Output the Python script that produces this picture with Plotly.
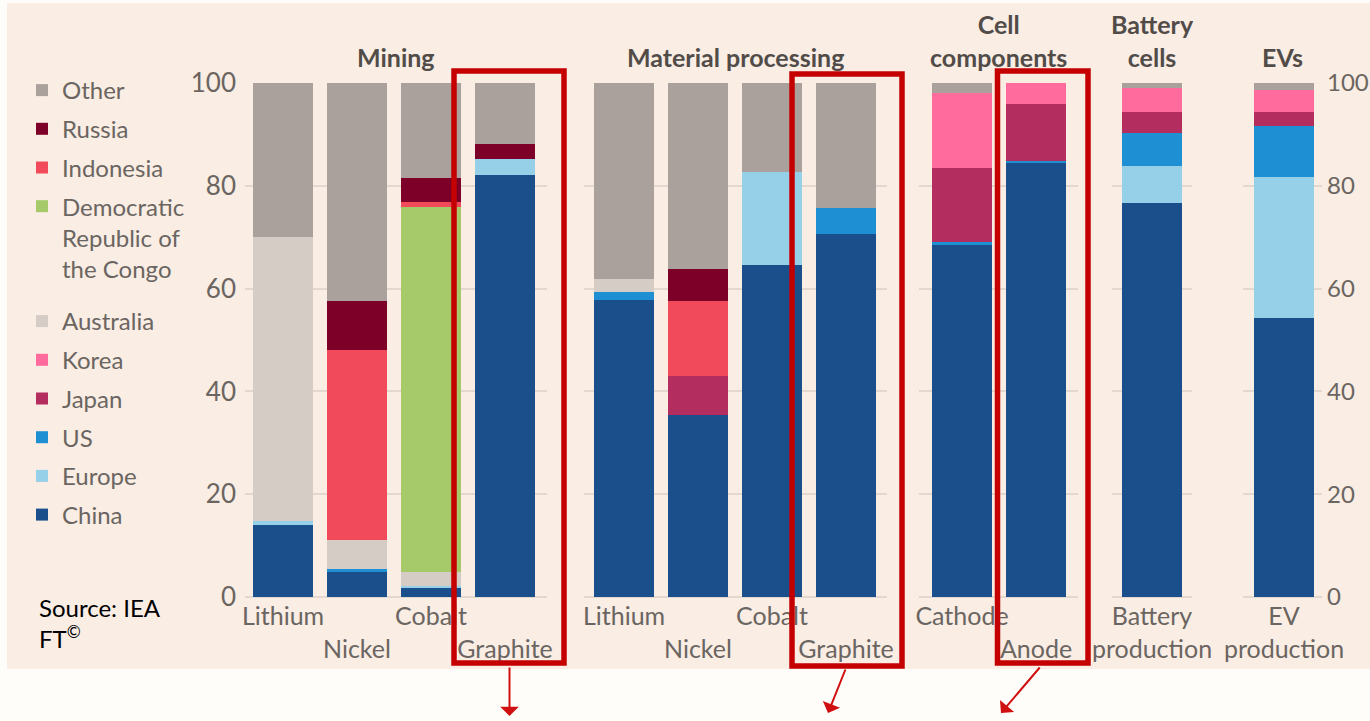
import plotly.graph_objects as go

W, H = 1370, 721

# ---------------- data ----------------
group_titles = ["Mining", "Material processing", "Cell<br>components", "Battery<br>cells", "EVs"]

mining_cats = ["Lithium", "Nickel", "Cobalt", "Graphite"]
processing_cats = ["Lithium", "Nickel", "Cobalt", "Graphite"]
cell_cats = ["Cathode", "Anode"]
battery_cats = ["Battery production"]
ev_cats = ["EV production"]

mining_ticks = ["Lithium", "\u00a0<br>Nickel", "Cobalt", "\u00a0<br>Graphite"]
processing_ticks = ["Lithium", "\u00a0<br>Nickel", "Cobalt", "\u00a0<br>Graphite"]
cell_ticks = ["Cathode", "\u00a0<br>Anode"]
battery_ticks = ["Battery<br>production"]
ev_ticks = ["EV<br>production"]

# share of each stage (%), bar order:
# Mining Li, Ni, Co, Gr | Processing Li, Ni, Co, Gr | Cathode, Anode | Battery | EV
china     = [14.0, 4.9, 1.7, 82.1, 57.8, 35.4, 64.6, 70.6, 68.5, 84.4, 76.7, 54.3]
europe    = [0.8, 0.0, 0.4, 3.2, 0.0, 0.0, 18.1, 0.0, 0.0, 0.0, 7.2, 27.4]
us        = [0.0, 0.5, 0.0, 0.0, 1.6, 0.0, 0.0, 5.0, 0.6, 0.5, 6.4, 9.9]
japan     = [0.0, 0.0, 0.0, 0.0, 0.0, 7.5, 0.0, 0.0, 14.4, 11.1, 4.1, 2.8]
korea     = [0.0, 0.0, 0.0, 0.0, 0.0, 0.0, 0.0, 0.0, 14.5, 4.0, 4.6, 4.2]
australia = [55.2, 5.7, 2.8, 0.0, 2.4, 0.0, 0.0, 0.0, 0.0, 0.0, 0.0, 0.0]
drc       = [0.0, 0.0, 71.0, 0.0, 0.0, 0.0, 0.0, 0.0, 0.0, 0.0, 0.0, 0.0]
indonesia = [0.0, 36.9, 1.0, 0.0, 0.0, 14.7, 0.0, 0.0, 0.0, 0.0, 0.0, 0.0]
russia    = [0.0, 9.5, 4.6, 2.8, 0.0, 6.3, 0.0, 0.0, 0.0, 0.0, 0.0, 0.0]
other     = [30.0, 42.5, 18.5, 11.9, 38.2, 36.1, 17.3, 24.4, 2.0, 0.0, 1.0, 1.4]

y_ticks = [0, 20, 40, 60, 80, 100]

# ---------------- styling ----------------
# stacking order bottom -> top; legend lists them top -> bottom
series = [
    ("China", china, "#1b4f8b", "legend2"),
    ("Europe", europe, "#96cfe8", "legend2"),
    ("US", us, "#1f8fd4", "legend2"),
    ("Japan", japan, "#b32d5e", "legend2"),
    ("Korea", korea, "#ff6b9d", "legend2"),
    ("Australia", australia, "#d5ccc5", "legend2"),
    ("Democratic<br>Republic of<br>the Congo", drc, "#a6c96a", "legend"),
    ("Indonesia", indonesia, "#f14b5b", "legend"),
    ("Russia", russia, "#7c0027", "legend"),
    ("Other", other, "#aaa19c", "legend"),
]

group_cats = [mining_cats, processing_cats, cell_cats, battery_cats, ev_cats]
group_ticks = [mining_ticks, processing_ticks, cell_ticks, battery_ticks, ev_ticks]

# pixel layout of each panel (left, right) and first bar centre
panel_px = [(245, 547), (584, 887), (919, 1078), (1112, 1192), (1243, 1322)]
first_centre_px = [283, 624, 962, 1152, 1284]
unit_px = 74.0
bar_px = 60.0

y_dom = [1 - 597 / H, 1 - 83 / H]

FONT = "Lato"
GREY = "#6b6561"
GRID = "#e2d8d0"

fig = go.Figure()

starts = []
s = 0
for cats in group_cats:
    starts.append(s)
    s += len(cats)

n_series = len(series)
for gi, cats in enumerate(group_cats):
    xa = "x" if gi == 0 else f"x{gi + 1}"
    ya = "y2" if gi == len(group_cats) - 1 else "y"
    lo = starts[gi]
    for si, (name, vals, color, lg) in enumerate(series):
        fig.add_trace(go.Bar(
            x=cats, y=vals[lo:lo + len(cats)], name=name,
            marker=dict(color=color, line=dict(width=0)),
            xaxis=xa, yaxis=ya, legendgroup=name, legend=lg,
            legendrank=n_series - si,
            showlegend=(gi == 0), hoverinfo="x+y+name",
        ))

layout_axes = {}
for gi, cats in enumerate(group_cats):
    l, r = panel_px[gi]
    r0 = -(first_centre_px[gi] - l) / unit_px
    r1 = r0 + (r - l) / unit_px
    key = "xaxis" if gi == 0 else f"xaxis{gi + 1}"
    layout_axes[key] = dict(
        type="category", domain=[l / W, r / W], range=[r0, r1],
        anchor="y" if gi < len(group_cats) - 1 else "y2",
        tickvals=cats, ticktext=group_ticks[gi], showgrid=False,
        showline=False, zeroline=False, ticks="", ticklabelstandoff=2,
        tickangle=0, automargin=False,
        tickfont=dict(family=FONT, size=25, color=GREY), fixedrange=True,
    )

fig.update_layout(**layout_axes)
fig.update_layout(
    yaxis=dict(domain=y_dom, range=[0, 100], tickvals=y_ticks, anchor="x",
               showgrid=True, gridcolor=GRID, gridwidth=1.5, automargin=False,
               zeroline=True, zerolinecolor=GRID, zerolinewidth=1.5,
               ticks="", ticklabelstandoff=8,
               tickfont=dict(family=FONT, size=26, color=GREY)),
    yaxis2=dict(domain=y_dom, range=[0, 100], tickvals=y_ticks, anchor="x5",
                side="right", showgrid=True, gridcolor=GRID, gridwidth=1.5,
                automargin=False,
                zeroline=True, zerolinecolor=GRID, zerolinewidth=1.5,
                ticks="", ticklabelstandoff=4,
                tickfont=dict(family=FONT, size=24, color=GREY)),
)

# group titles
for gi, title in enumerate(group_titles):
    xr = "x domain" if gi == 0 else f"x{gi + 1} domain"
    fig.add_annotation(text=title, xref=xr, x=0.5, yref="paper", y=1 - 74 / H,
                       xanchor="center", yanchor="bottom", showarrow=False,
                       font=dict(family=FONT, size=25, color="#524c49", weight="bold"))

# source note
fig.add_annotation(text="Source: IEA<br>FT<sup>©</sup>", xref="paper", yref="paper",
                   x=37 / W, y=1 - 591 / H, xanchor="left", yanchor="top", align="left",
                   showarrow=False, font=dict(family=FONT, size=24, color="#000000"))

# beige panel background
fig.add_shape(type="rect", xref="paper", yref="paper", x0=7 / W, x1=1.0,
              y0=1 - 669 / H, y1=1 - 3 / H, fillcolor="#f9ede4",
              line=dict(width=0), layer="below")

# red highlight boxes
RED = "#c40000"
for (x0, x1, y0, y1) in [(454, 564, 71, 663), (792, 902, 74, 666), (997.5, 1088, 71, 663)]:
    fig.add_shape(type="rect", xref="paper", yref="paper",
                  x0=x0 / W, x1=x1 / W, y0=1 - y1 / H, y1=1 - y0 / H,
                  line=dict(color=RED, width=5.5), layer="above")

# arrows
for (hx, hy, tx, ty) in [(509.5, 716, 509.5, 666), (828, 713, 846, 668), (1001, 713, 1041, 666)]:
    fig.add_annotation(x=hx / W, y=1 - hy / H, xref="paper", yref="paper",
                       ax=tx - hx, ay=ty - hy, axref="pixel", ayref="pixel",
                       text="", showarrow=True, arrowhead=1, arrowsize=1.55,
                       arrowwidth=2, arrowcolor="#d01010")

legend_common = dict(
    orientation="v", xanchor="left", yanchor="top", bgcolor="rgba(0,0,0,0)",
    font=dict(family=FONT, size=24, color=GREY), traceorder="grouped",
    tracegroupgap=4.5, valign="top", itemclick=False, itemdoubleclick=False,
)
fig.update_layout(
    legend=dict(x=22 / W, y=1 - 68 / H, **legend_common),
    legend2=dict(x=22 / W, y=1 - 299 / H, **legend_common),
)

fig.update_layout(
    width=W, height=H, margin=dict(l=0, r=0, t=0, b=0, autoexpand=False),
    paper_bgcolor="#fffdf9", plot_bgcolor="rgba(0,0,0,0)",
    barmode="stack", bargap=1 - bar_px / unit_px,
    showlegend=True, font=dict(family=FONT),
)

fig.write_html("out.html",
               config={"displayModeBar": False},
               post_script="document.body.style.margin='0px';"
                           "document.body.style.overflow='hidden';")
